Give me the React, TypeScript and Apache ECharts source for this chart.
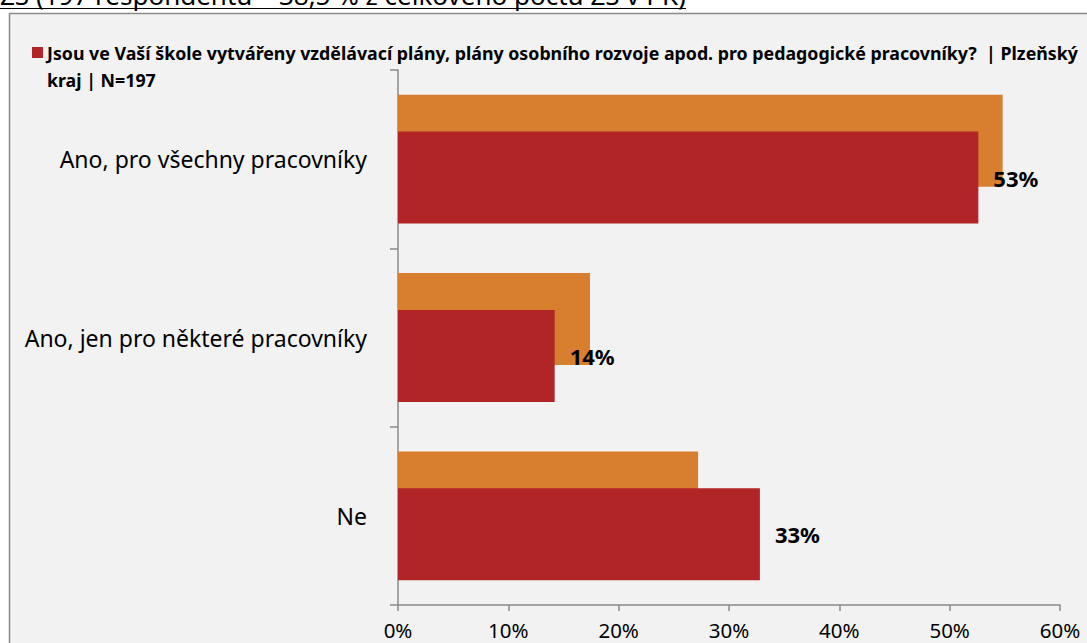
import React, { useEffect, useRef } from "react";
import * as echarts from "echarts";

const categories = [
  "Ano, pro všechny pracovníky",
  "Ano, jen pro některé pracovníky",
  "Ne",
];
const comparisonValues = [54.8, 17.4, 27.2];
const regionValues = [52.6, 14.2, 32.8];
const xTicks = [0, 10, 20, 30, 40, 50, 60];
const seriesName =
  "Jsou ve Vaší škole vytvářeny vzdělávací plány, plány osobního rozvoje apod. pro pedagogické pracovníky?  | Plzeňský kraj | N=197";
const legendLine1 =
  "Jsou ve Vaší škole vytvářeny vzdělávací plány, plány osobního rozvoje apod. pro pedagogické pracovníky?  | Plzeňský";
const legendLine2 = "kraj | N=197";
const headerText = "ZŠ (197 respondentů – 38,5 % z celkového počtu ZŠ v PK)";

const FONT = "'Noto Sans', 'Open Sans', sans-serif";
const ORANGE = "#D87E2F";
const RED = "#B22527";

export default function App() {
  const ref = useRef<HTMLDivElement>(null);
  useEffect(() => {
    if (!ref.current) return;
    const chart = echarts.init(ref.current, undefined, { renderer: "svg" });
    chart.setOption({
      animation: false,
      backgroundColor: "#ffffff",
      textStyle: { fontFamily: FONT },
      graphic: [
        {
          type: "rect",
          z: -10,
          shape: { x: 9.5, y: 13.5, width: 1200, height: 800 },
          style: { fill: "#F2F2F2", stroke: "#8A8A8A", lineWidth: 1.5 },
        },
        {
          type: "text",
          x: 0,
          y: 8,
          style: {
            text: headerText,
            font: `26px ${FONT}`,
            fill: "#000",
            verticalAlign: "bottom",
          },
        },
        {
          type: "line",
          shape: { x1: 0, y1: 8.5, x2: 686, y2: 8.5 },
          style: { stroke: "#000", lineWidth: 1.2 },
        },
        {
          type: "rect",
          shape: { x: 32, y: 47, width: 11, height: 11 },
          style: { fill: RED },
        },
        {
          type: "text",
          x: 47,
          y: 52.5,
          style: {
            text: legendLine1,
            font: `bold 17.8px ${FONT}`,
            fill: "#000",
            verticalAlign: "middle",
          },
        },
        {
          type: "text",
          x: 47,
          y: 80,
          style: {
            text: legendLine2,
            font: `bold 17.8px ${FONT}`,
            fill: "#000",
            verticalAlign: "middle",
          },
        },
      ],
      grid: { left: 398, right: 27, top: 70, bottom: 38, containLabel: false },
      xAxis: {
        type: "value",
        min: 0,
        max: 60,
        interval: 10,
        axisLine: { show: true, lineStyle: { color: "#8A8A8A", width: 1.5 } },
        axisTick: { show: true, length: 6, lineStyle: { color: "#8A8A8A", width: 1.5 } },
        splitLine: { show: false },
        axisLabel: {
          formatter: (v: number) => (xTicks.includes(v) ? `${v}%` : ""),
          fontSize: 20.5,
          lineHeight: 22,
          color: "#000",
          margin: 14,
          fontFamily: FONT,
        },
      },
      yAxis: {
        type: "category",
        data: categories,
        inverse: true,
        axisLine: { show: true, lineStyle: { color: "#8A8A8A", width: 1.5 } },
        axisTick: { show: true, length: 8, lineStyle: { color: "#8A8A8A", width: 1.5 } },
        axisLabel: { fontSize: 23, color: "#000", margin: 31, fontFamily: FONT },
      },
      series: [
        {
          name: "Srovnání",
          type: "bar",
          data: comparisonValues,
          barWidth: 92,
          barGap: "-60%",
          itemStyle: { color: ORANGE },
        },
        {
          name: seriesName,
          type: "bar",
          data: regionValues,
          barWidth: 92,
          barGap: "-60%",
          itemStyle: { color: RED },
          label: {
            show: true,
            position: "right",
            distance: 15,
            formatter: (p: any) => `${Math.round(p.value)}%`,
            fontSize: 22,
            fontWeight: "bold",
            color: "#000",
            fontFamily: FONT,
          },
        },
      ],
    });
    return () => chart.dispose();
  }, []);
  return (
    <div
      ref={ref}
      style={{ position: "absolute", left: 0, top: 0, width: 1087, height: 643 }}
    />
  );
}
